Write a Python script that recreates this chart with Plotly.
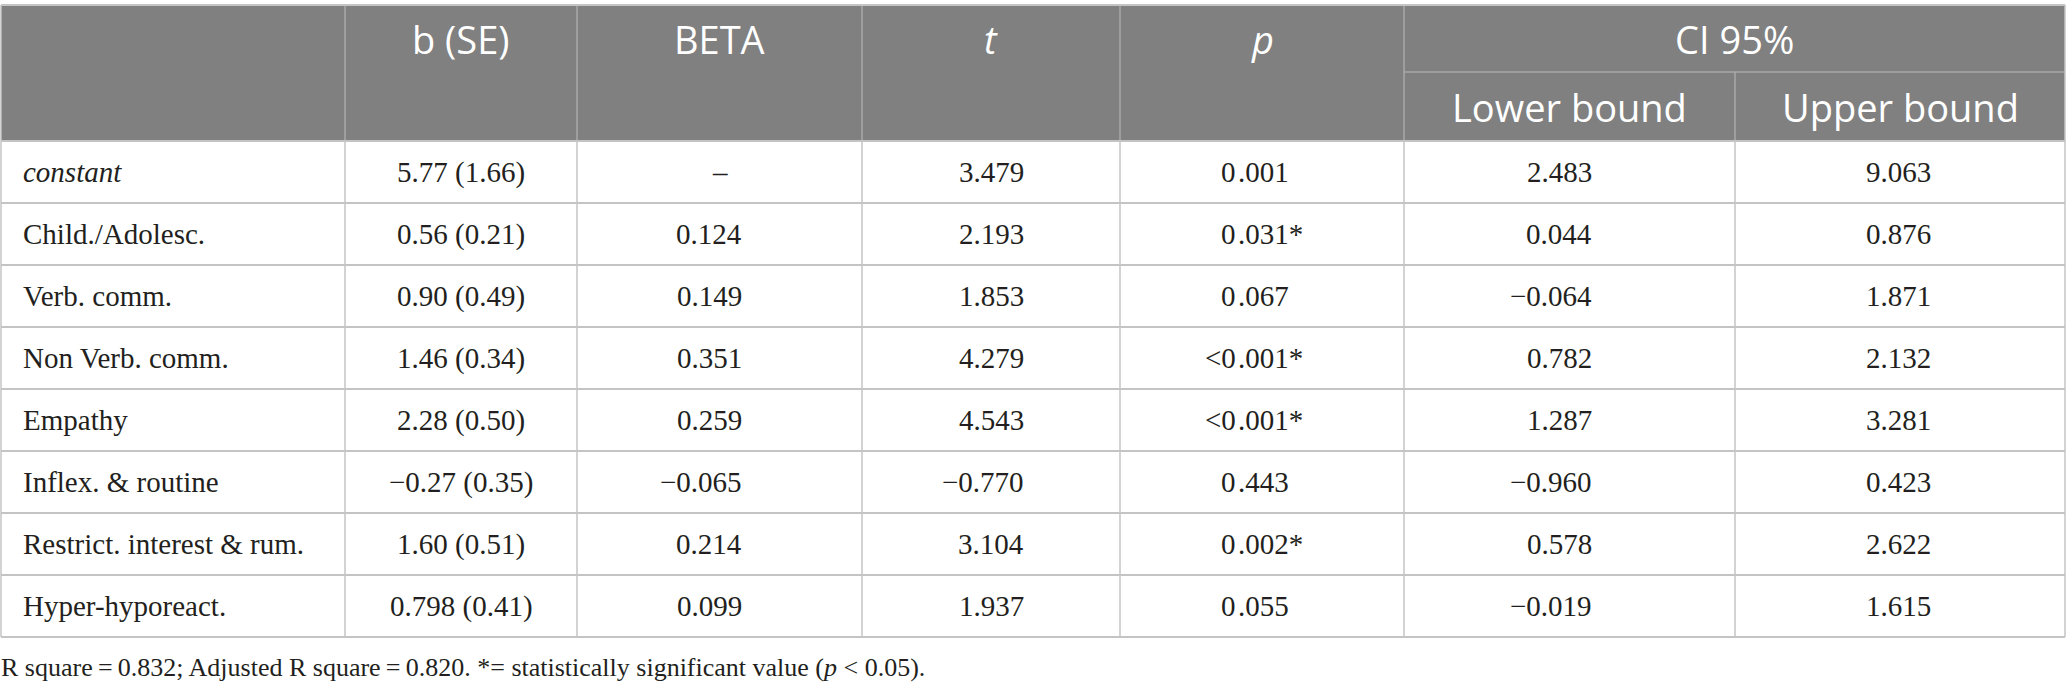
import plotly.graph_objects as go

# ---------------- data ----------------
row_labels = ["constant", "Child./Adolesc.", "Verb. comm.", "Non Verb. comm.", "Empathy",
              "Inflex. & routine", "Restrict. interest & rum.", "Hyper-hyporeact."]
b_se = ["5.77 (1.66)", "0.56 (0.21)", "0.90 (0.49)", "1.46 (0.34)", "2.28 (0.50)",
        "\u22120.27 (0.35)", "1.60 (0.51)", "0.798 (0.41)"]
beta = ["\u2013", "0.124", "0.149", "0.351", "0.259", "\u22120.065", "0.214", "0.099"]
t_vals = ["3.479", "2.193", "1.853", "4.279", "4.543", "\u22120.770", "3.104", "1.937"]
p_vals = ["0.001", "0.031*", "0.067", "<0.001*", "<0.001*", "0.443", "0.002*", "0.055"]
ci_lower = ["2.483", "0.044", "\u22120.064", "0.782", "1.287", "\u22120.960", "0.578", "\u22120.019"]
ci_upper = ["9.063", "0.876", "1.871", "2.132", "3.281", "0.423", "2.622", "1.615"]

header_top = ["", "b (SE)", "BETA", "<i>t</i>", "<i>p</i>"]
ci_group = "CI 95%"
ci_sub = ["Lower bound", "Upper bound"]
footnote = ("R square\u2009=\u20090.832; Adjusted R square\u2009=\u20090.820. "
            "*= statistically significant value (<i>p</i> &lt; 0.05).")

# ---------------- layout / style ----------------
W, H = 2067, 691
col_edges = [1, 345, 577, 862, 1120, 1404, 1735, 2065]
top_y = 5
head_split = 72
head_bottom = 141
row_h = 62
footnote_y = 667

HEAD_FILL = "#808080"
GRID = "#c4c4c4"
HEAD_GRID = "#a9a9a9"
TXT = "#231f20"
HEAD_FONT = dict(family="Open Sans", size=38, color="white")
BODY_FONT = dict(family="Liberation Serif", size=29, color=TXT)
FOOT_FONT = dict(family="Liberation Serif", size=26, color=TXT)

n_rows = len(row_labels)
body_bottom = head_bottom + n_rows * row_h

fig = go.Figure()
shapes = []
annotations = []


def txt(x, y, text, font, xanchor="center"):
    annotations.append(dict(x=x, y=y, xref="x", yref="y", text=text, showarrow=False,
                            xanchor=xanchor, yanchor="middle", font=font, borderpad=0))


# header background
shapes.append(dict(type="rect", xref="x", yref="y", x0=col_edges[0], x1=col_edges[-1],
                   y0=top_y, y1=head_bottom, fillcolor=HEAD_FILL, line=dict(width=0), layer="below"))

# header lines
for xe in col_edges[1:-1]:
    y0 = top_y if xe != col_edges[6] else head_split
    shapes.append(dict(type="line", xref="x", yref="y", x0=xe, x1=xe, y0=y0, y1=head_bottom,
                       line=dict(color=HEAD_GRID, width=1.5)))
shapes.append(dict(type="line", xref="x", yref="y", x0=col_edges[5], x1=col_edges[-1],
                   y0=head_split, y1=head_split, line=dict(color=HEAD_GRID, width=1.5)))

# outer & body grid
shapes.append(dict(type="line", xref="x", yref="y", x0=col_edges[0], x1=col_edges[-1],
                   y0=top_y, y1=top_y, line=dict(color=GRID, width=2)))
for i in range(n_rows + 1):
    yy = head_bottom + i * row_h
    shapes.append(dict(type="line", xref="x", yref="y", x0=col_edges[0], x1=col_edges[-1],
                       y0=yy, y1=yy, line=dict(color=GRID, width=2)))
for xe in col_edges:
    y0 = top_y if xe in (col_edges[0], col_edges[-1]) else head_bottom
    shapes.append(dict(type="line", xref="x", yref="y", x0=xe, x1=xe, y0=y0, y1=body_bottom,
                       line=dict(color=GRID, width=1.5)))

# header text
hy1 = (top_y + head_split) / 2
hy2 = (head_split + head_bottom) / 2
for j, h in enumerate(header_top):
    if h:
        txt((col_edges[j] + col_edges[j + 1]) / 2, hy1, h, HEAD_FONT)
txt((col_edges[5] + col_edges[7]) / 2, hy1, ci_group, HEAD_FONT)
for k, h in enumerate(ci_sub):
    txt((col_edges[5 + k] + col_edges[6 + k]) / 2, hy2, h, HEAD_FONT)

# body text
right_anchor = {2: 743, 3: 1025, 5: 1593, 6: 1932}
p_decimal_x = 1237
for i in range(n_rows):
    yc = head_bottom + i * row_h + row_h / 2
    lab = row_labels[i]
    if lab == "constant":
        lab = "<i>constant</i>"
    txt(col_edges[0] + 21, yc, lab, BODY_FONT, "left")
    txt((col_edges[1] + col_edges[2]) / 2, yc, b_se[i], BODY_FONT)
    for j, vals in ((2, beta), (3, t_vals), (5, ci_lower), (6, ci_upper)):
        v = vals[i]
        if "." in v:
            txt(right_anchor[j], yc, v, BODY_FONT, "right")
        else:
            txt((col_edges[j] + col_edges[j + 1]) / 2, yc, v, BODY_FONT)
    pv = p_vals[i].replace("<", "&lt;")
    left, right = pv.split(".", 1)
    txt(p_decimal_x, yc, left, BODY_FONT, "right")
    txt(p_decimal_x, yc, "." + right, BODY_FONT, "left")

# footnote
txt(0, footnote_y, footnote, FOOT_FONT, "left")

fig.update_layout(
    width=W, height=H, margin=dict(l=0, r=0, t=0, b=0),
    paper_bgcolor="white", plot_bgcolor="white",
    xaxis=dict(range=[0, W], visible=False, fixedrange=True),
    yaxis=dict(range=[H, 0], visible=False, fixedrange=True),
    shapes=shapes, annotations=annotations, showlegend=False,
)

fig.write_html("out.html", config={"displayModeBar": False, "staticPlot": True},
               post_script="document.body.style.margin='0';")
